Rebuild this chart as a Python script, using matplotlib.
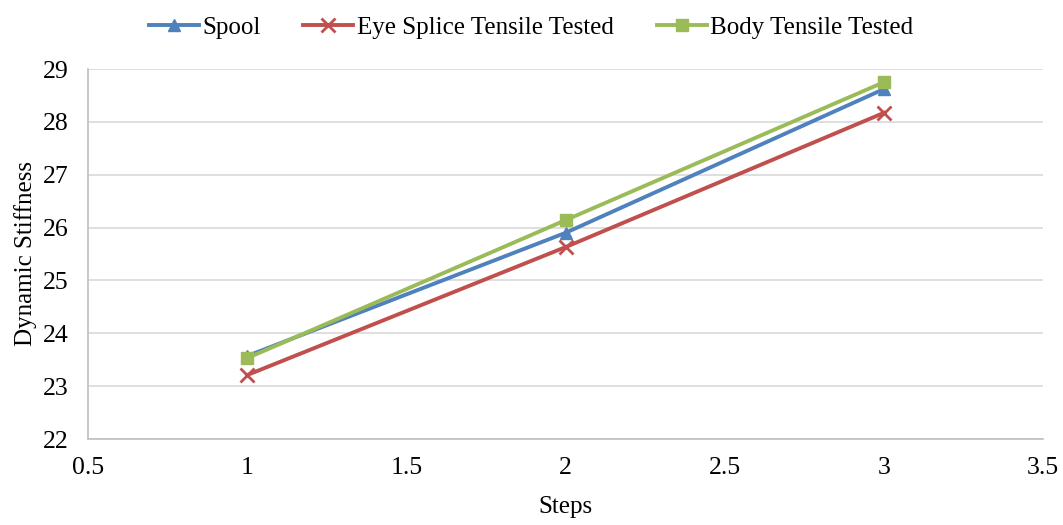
import matplotlib.pyplot as plt

plt.rcParams['font.family'] = ['Liberation Serif', 'DejaVu Serif']

steps = [1, 2, 3]
spool = [23.57, 25.90, 28.62]
eye_splice = [23.21, 25.63, 28.17]
body = [23.53, 26.14, 28.75]

fig = plt.figure(figsize=(10.63, 5.25), dpi=100)
ax = fig.add_axes([88 / 1063, 1 - 439 / 525, (1043 - 88) / 1063, (439 - 69) / 525])

ax.plot(steps, spool, color='#4F81BD', lw=2.8, marker='^', ms=9, label='Spool')
ax.plot(steps, eye_splice, color='#C0504D', lw=2.8, marker='x', ms=10, mew=2,
        label='Eye Splice Tensile Tested')
ax.plot(steps, body, color='#9BBB59', lw=2.8, marker='s', ms=9, label='Body Tensile Tested')

ax.set_xlim(0.5, 3.5)
ax.set_ylim(22, 29)
ax.set_xticks([0.5, 1, 1.5, 2, 2.5, 3, 3.5])
ax.set_xticklabels(['0.5', '1', '1.5', '2', '2.5', '3', '3.5'])
ax.set_yticks(range(22, 30))
ax.tick_params(labelsize=18.5, length=0)
ax.tick_params(axis='y', pad=14)
ax.tick_params(axis='x', pad=13)
ax.grid(axis='y', color='#D9D9D9', lw=1.2)
ax.set_axisbelow(True)
for side in ['top', 'right']:
    ax.spines[side].set_visible(False)
for side in ['left', 'bottom']:
    ax.spines[side].set_color('#BFBFBF')
    ax.spines[side].set_linewidth(1.2)

ax.set_xlabel('Steps', fontsize=18, labelpad=12)
ax.set_ylabel('Dynamic Stiffness', fontsize=18, labelpad=4)

ax.legend(loc='lower center', bbox_to_anchor=(0.464, 1.02), ncol=3, frameon=False,
          fontsize=18, handlelength=2.0, handletextpad=0.15, columnspacing=1.7)

fig.savefig('out.png', dpi=100)
